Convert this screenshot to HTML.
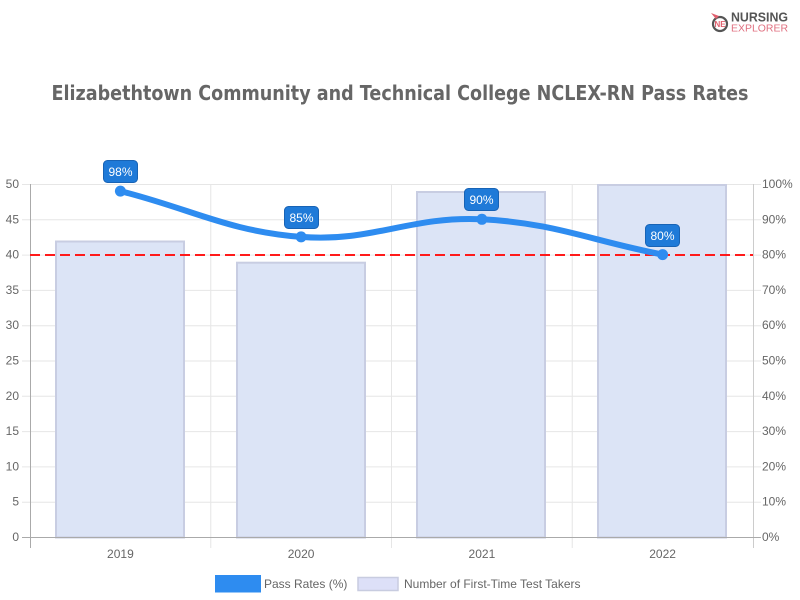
<!DOCTYPE html>
<html><head><meta charset="utf-8"><style>
html,body{margin:0;padding:0;background:#fff;}
svg{display:block;}
text{font-family:"Liberation Sans",sans-serif;}
</style></head><body>
<svg width="800" height="600" viewBox="0 0 800 600" xmlns="http://www.w3.org/2000/svg">
<rect width="800" height="600" fill="#fff"/>
<!-- logo -->
<circle cx="720" cy="24" r="7" fill="none" stroke="#555" stroke-width="2.2"/>
<path d="M716 19 L711 13 L719 16 Z" fill="#e0606e"/>
<text x="720" y="27" font-size="8" font-weight="bold" fill="#e0606e" text-anchor="middle">NE</text>
<text x="731" y="21.5" font-size="13" font-weight="bold" fill="#555" textLength="57" lengthAdjust="spacingAndGlyphs">NURSING</text>
<text x="731" y="31.5" font-size="10.5" fill="#e07080" font-family="Liberation Mono,monospace" textLength="57" lengthAdjust="spacingAndGlyphs">EXPLORER</text>
<!-- title -->
<text x="400" y="100" font-size="20" font-weight="bold" fill="#666" text-anchor="middle" textLength="697" lengthAdjust="spacingAndGlyphs" style="font-family:'DejaVu Sans',sans-serif">Elizabethtown Community and Technical College NCLEX-RN Pass Rates</text>
<!-- horizontal grid -->
<g stroke="#e6e6e6" stroke-width="1">
<line x1="22" y1="184.5" x2="761" y2="184.5"/>
<line x1="22" y1="219.8" x2="761" y2="219.8"/>
<line x1="22" y1="255.1" x2="761" y2="255.1"/>
<line x1="22" y1="290.4" x2="761" y2="290.4"/>
<line x1="22" y1="325.7" x2="761" y2="325.7"/>
<line x1="22" y1="361" x2="761" y2="361"/>
<line x1="22" y1="396.3" x2="761" y2="396.3"/>
<line x1="22" y1="431.6" x2="761" y2="431.6"/>
<line x1="22" y1="466.9" x2="761" y2="466.9"/>
<line x1="22" y1="502.2" x2="761" y2="502.2"/>
</g>
<!-- vertical grid -->
<g stroke="#e6e6e6" stroke-width="1">
<line x1="210.75" y1="184" x2="210.75" y2="548"/>
<line x1="391.5" y1="184" x2="391.5" y2="548"/>
<line x1="572.25" y1="184" x2="572.25" y2="548"/>
</g>
<!-- bars -->
<g fill="#dce4f6" stroke="#c8cde2" stroke-width="2">
<rect x="56" y="241.5" width="128" height="296"/>
<rect x="237" y="262.7" width="128" height="274.8"/>
<rect x="417" y="192" width="128" height="345.5"/>
<rect x="598" y="185" width="128" height="352.5"/>
</g>
<!-- axes -->
<line x1="30.5" y1="184" x2="30.5" y2="548" stroke="#aaa" stroke-width="1"/>
<line x1="753.5" y1="184" x2="753.5" y2="548" stroke="#ccc" stroke-width="1"/>
<line x1="22" y1="537.5" x2="761" y2="537.5" stroke="#aaa" stroke-width="1"/>
<!-- left labels -->
<g font-size="12" fill="#666" text-anchor="end">
<text x="19" y="188">50</text>
<text x="19" y="223.3">45</text>
<text x="19" y="258.6">40</text>
<text x="19" y="293.9">35</text>
<text x="19" y="329.2">30</text>
<text x="19" y="364.5">25</text>
<text x="19" y="399.8">20</text>
<text x="19" y="435.1">15</text>
<text x="19" y="470.4">10</text>
<text x="19" y="505.7">5</text>
<text x="19" y="541">0</text>
</g>
<!-- right labels -->
<g font-size="12" fill="#666">
<text x="762" y="188">100%</text>
<text x="762" y="223.3">90%</text>
<text x="762" y="258.6">80%</text>
<text x="762" y="293.9">70%</text>
<text x="762" y="329.2">60%</text>
<text x="762" y="364.5">50%</text>
<text x="762" y="399.8">40%</text>
<text x="762" y="435.1">30%</text>
<text x="762" y="470.4">20%</text>
<text x="762" y="505.7">10%</text>
<text x="762" y="541">0%</text>
</g>
<!-- x labels -->
<g font-size="12" fill="#666" text-anchor="middle">
<text x="120.4" y="558">2019</text>
<text x="301.1" y="558">2020</text>
<text x="481.9" y="558">2021</text>
<text x="662.6" y="558">2022</text>
</g>
<!-- red dashed line -->
<line x1="30" y1="255" x2="753" y2="255" stroke="#ff1a1a" stroke-width="2" stroke-dasharray="10,5"/>
<!-- line series -->
<path d="M120.4,191.1 C192.7,209.4 227.9,231.2 301.1,236.9 C372.5,242.5 410.1,215.8 481.9,219.3 C554.7,222.9 590.3,240.5 662.6,254.6" fill="none" stroke="#2e8cf0" stroke-width="6" stroke-linecap="round"/>
<g fill="#2e8cf0">
<circle cx="120.4" cy="191.1" r="5.5"/>
<circle cx="301.1" cy="236.9" r="5.5"/>
<circle cx="481.9" cy="219.3" r="5.5"/>
<circle cx="662.6" cy="254.6" r="5.5"/>
</g>
<!-- data labels -->
<g fill="#1f7ad8" stroke="#1863b5" stroke-width="1">
<rect x="103.5" y="160.5" width="34" height="22" rx="4"/>
<rect x="284.5" y="206.5" width="34" height="22" rx="4"/>
<rect x="464.5" y="188.5" width="34" height="22" rx="4"/>
<rect x="645.5" y="224.5" width="34" height="22" rx="4"/>
</g>
<g font-size="12" fill="#fff" text-anchor="middle">
<text x="120.5" y="176">98%</text>
<text x="301.5" y="222">85%</text>
<text x="481.5" y="204">90%</text>
<text x="662.5" y="240">80%</text>
</g>
<!-- legend -->
<rect x="215" y="575" width="46" height="17.5" fill="#2e8cf0"/>
<text x="264" y="588" font-size="12" fill="#666">Pass Rates (%)</text>
<rect x="358" y="577.5" width="40" height="13" fill="#dde0f8" stroke="#c8cce0" stroke-width="1.5"/>
<text x="404" y="588" font-size="12" fill="#666">Number of First-Time Test Takers</text>
</svg>
</body></html>
